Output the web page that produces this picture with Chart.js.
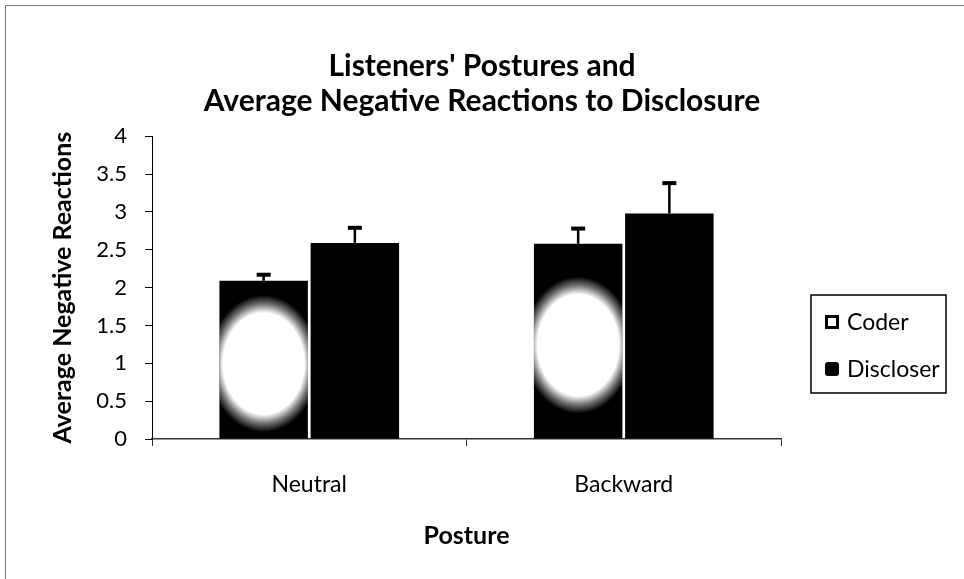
<!DOCTYPE html>
<html>
<head>
<meta charset="utf-8">
<script src="https://cdn.jsdelivr.net/npm/chart.js@4"></script>
<style>
    html, body { margin: 0; padding: 0; background: #fff; }
    #wrap { width: 964px; height: 579px; }
</style>
</head>
<body>
<div id="wrap"><canvas id="myChart" width="964" height="579"></canvas></div>
<script>
var categories = ['Neutral', 'Backward'];
var seriesNames = ['Coder', 'Discloser'];
var coderMeans = [2.09, 2.58];
var discloserMeans = [2.59, 2.98];
// upward error bars only (value added on top of mean)
var coderErrors = [0.08, 0.20];
var discloserErrors = [0.20, 0.40];
var yTicks = [0, 0.5, 1, 1.5, 2, 2.5, 3, 3.5, 4];

var fontFamily = 'Lato, "Open Sans", sans-serif';

// white frame + border line like the scanned figure
var framePlugin = {
    id: 'frame',
    beforeDraw: function (chart) {
        var ctx = chart.ctx;
        ctx.save();
        ctx.fillStyle = '#fff';
        ctx.fillRect(0, 0, chart.width, chart.height);
        ctx.strokeStyle = '#777';
        ctx.lineWidth = 1;
        ctx.beginPath();
        ctx.moveTo(5.5, chart.height);
        ctx.lineTo(5.5, 5.5);
        ctx.lineTo(chart.width, 5.5);
        ctx.stroke();
        ctx.restore();
    }
};

// the light blot in the middle of the Coder bars
var glowPlugin = {
    id: 'glow',
    afterDatasetDraw: function (chart, args) {
        if (args.index !== 0) return;
        var ctx = chart.ctx;
        args.meta.data.forEach(function (bar) {
            var p = bar.getProps(['x', 'y', 'base', 'width'], true);
            var left = p.x - p.width / 2;
            var cy = (p.y + p.base) / 2 + 4;
            ctx.save();
            ctx.beginPath();
            ctx.rect(left, p.y, p.width, p.base - p.y);
            ctx.clip();
            ctx.translate(p.x, cy);
            ctx.scale(1, 1.25);
            var r = p.width * 0.62;
            var g = ctx.createRadialGradient(0, 0, 0, 0, 0, r);
            g.addColorStop(0, 'rgba(255,255,255,1)');
            g.addColorStop(0.74, 'rgba(255,255,255,1)');
            g.addColorStop(0.87, 'rgba(255,255,255,0.45)');
            g.addColorStop(1, 'rgba(255,255,255,0)');
            ctx.fillStyle = g;
            ctx.beginPath();
            ctx.arc(0, 0, r, 0, Math.PI * 2);
            ctx.fill();
            ctx.restore();
        });
    }
};

var errorPlugin = {
    id: 'errorBars',
    afterDatasetsDraw: function (chart) {
        var ctx = chart.ctx;
        var yScale = chart.scales.y;
        var errs = [coderErrors, discloserErrors];
        chart.data.datasets.forEach(function (ds, di) {
            var meta = chart.getDatasetMeta(di);
            meta.data.forEach(function (bar, i) {
                var topPx = yScale.getPixelForValue(ds.data[i] + errs[di][i]);
                ctx.save();
                ctx.strokeStyle = '#000';
                ctx.lineWidth = 2.5;
                ctx.beginPath();
                ctx.moveTo(bar.x, bar.y);
                ctx.lineTo(bar.x, topPx);
                ctx.stroke();
                ctx.lineWidth = 4;
                ctx.beginPath();
                ctx.moveTo(bar.x - 7, topPx);
                ctx.lineTo(bar.x + 7, topPx);
                ctx.stroke();
                ctx.restore();
            });
        });
    }
};

// boxed legend on the right
var legendBoxPlugin = {
    id: 'legendBox',
    afterDraw: function (chart) {
        var ctx = chart.ctx;
        var area = chart.chartArea;
        var bx = area.right + 30, by = 295, bw = 135, bh = 98;
        ctx.save();
        ctx.strokeStyle = '#000';
        ctx.lineWidth = 1.5;
        ctx.strokeRect(bx, by, bw, bh);
        ctx.font = '23px ' + fontFamily;
        ctx.textBaseline = 'middle';
        ctx.fillStyle = '#000';
        seriesNames.forEach(function (name, i) {
            var cy = by + 27 + i * 47;
            if (i === 0) {
                ctx.fillStyle = '#fff';
                ctx.fillRect(bx + 14, cy - 7, 14, 14);
                ctx.lineWidth = 3;
                ctx.strokeStyle = '#000';
                ctx.strokeRect(bx + 15.5, cy - 5.5, 11, 11);
            } else {
                ctx.fillStyle = '#000';
                ctx.beginPath();
                ctx.roundRect(bx + 14, cy - 7, 14, 14, 3);
                ctx.fill();
            }
            ctx.fillStyle = '#000';
            ctx.fillText(name, bx + 36, cy + 1);
        });
        ctx.restore();
    }
};

var ctx = document.getElementById('myChart').getContext('2d');
var myChart = new Chart(ctx, {
    type: 'bar',
    data: {
        labels: categories,
        datasets: [{
            label: seriesNames[0],
            data: coderMeans,
            backgroundColor: '#000'
        }, {
            label: seriesNames[1],
            data: discloserMeans,
            backgroundColor: '#000'
        }]
    },
    options: {
        responsive: false,
        animation: false,
        categoryPercentage: 0.58,
        barPercentage: 0.97,
        layout: {
            padding: { left: 0, right: 0, top: 0, bottom: 8 }
        },
        plugins: {
            legend: { display: false },
            tooltip: { enabled: false },
            title: {
                display: true,
                text: ["Listeners' Postures and", 'Average Negative Reactions to Disclosure'],
                color: '#000',
                font: { family: fontFamily, size: 30, weight: 'bold', lineHeight: 1.17 },
                padding: { top: 49, bottom: 17 }
            }
        },
        scales: {
            x: {
                afterFit: function (scale) {
                    scale.height = 132;
                },
                grid: { display: true, drawOnChartArea: false, tickLength: 7, color: '#333' },
                border: { display: true, color: '#333', width: 1.5 },
                ticks: { color: '#000', padding: 25, font: { family: fontFamily, size: 23 } },
                title: {
                    display: true,
                    text: 'Posture',
                    color: '#000',
                    font: { family: fontFamily, size: 25, weight: 'bold' },
                    padding: { top: 22, bottom: 20 }
                }
            },
            y: {
                min: 0,
                max: 4,
                afterBuildTicks: function (scale) {
                    scale.ticks = yTicks.map(function (v) { return { value: v }; });
                },
                afterFit: function (scale) {
                    scale.width = 152;
                },
                grid: { display: true, drawOnChartArea: false, tickLength: 7, color: '#000' },
                border: { display: true, color: '#000', width: 1 },
                ticks: {
                    color: '#000',
                    padding: 18,
                    font: { family: fontFamily, size: 22 },
                    callback: function (v) { return String(v); }
                },
                title: {
                    display: true,
                    text: 'Average Negative Reactions',
                    color: '#000',
                    font: { family: fontFamily, size: 25, weight: 'bold' },
                    padding: { top: 48, bottom: 10 }
                }
            },
            // empty right-hand axis that keeps room for the boxed legend
            side: {
                type: 'linear',
                position: 'right',
                display: true,
                grid: { display: false },
                border: { display: false },
                ticks: { display: false },
                afterFit: function (scale) {
                    scale.width = 183;
                }
            }
        }
    },
    plugins: [framePlugin, glowPlugin, errorPlugin, legendBoxPlugin]
});
</script>
</body>
</html>
